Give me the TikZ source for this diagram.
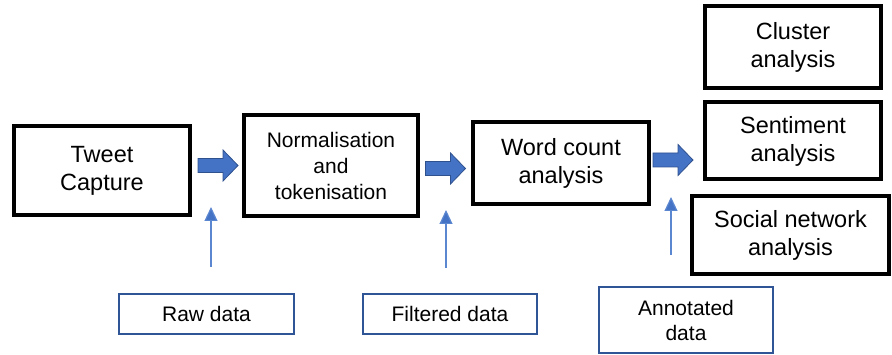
\documentclass[tikz,border=0pt]{standalone}
\usepackage{fontspec}
\setmainfont{Liberation Sans}
\usepackage{xcolor}
\usepackage{tikz}
\usetikzlibrary{arrows.meta,positioning}
\definecolor{arrowblue}{HTML}{4472C4}
\definecolor{arrowedge}{HTML}{2F528F}
\definecolor{databorder}{HTML}{2F5597}
\definecolor{thinblue}{HTML}{5B86D0}

\begin{document}
\begin{tikzpicture}[x=1pt, y=-1pt,
  proc/.style={draw, line width=4pt, rectangle, inner sep=0pt, align=center,
    font=\fontsize{23.5}{28}\selectfont},
  data/.style={draw=databorder, line width=1.5pt, rectangle, inner sep=0pt, align=center,
    font=\fontsize{21}{25}\selectfont},
  blk/.pic={\filldraw[fill=arrowblue, draw=arrowedge, line width=0.8pt]
    (-20,-7) -- (5,-7) -- (5,-15.5) -- (20,0) -- (5,15.5) -- (5,7) -- (-20,7) -- cycle;},
  feed/.style={draw=thinblue, line width=1.2pt, -{Triangle[length=14pt, width=13pt, fill=arrowblue]}}]
  \useasboundingbox (0,0) rectangle (892,355);

  % Processing stages
  \node[proc, minimum width=176pt, minimum height=89pt] (tweet) at (102,170.5) {Tweet\\Capture};
  \node[proc, minimum width=174pt, minimum height=101pt, font=\fontsize{21}{26}\selectfont] (norm) at (331,165.5) {Normalisation\\and\\tokenisation};
  \node[proc, minimum width=176pt, minimum height=82pt] (count) at (561,163) {Word count\\analysis};

  % Analyses
  \node[proc, minimum width=176pt, minimum height=82pt] (cluster) at (793,47) {Cluster\\analysis};
  \node[proc, minimum width=176pt, minimum height=77pt] (senti) at (793,141) {Sentiment\\analysis};
  \node[proc, minimum width=197pt, minimum height=78pt] (social) at (790.5,235) {Social network\\analysis};

  % Block arrows
  \pic (b1) at (218,165.5) {blk};
  \pic (b2) at (445.5,168.5) {blk};
  \pic (b3) at (673,160) {blk};

  % Data inputs
  \node[data, minimum width=175pt, minimum height=40pt] (raw) at (206.5,314) {Raw data};
  \node[data, minimum width=174pt, minimum height=40pt] (filt) at (450,314) {Filtered data};
  \node[data, minimum width=174pt, minimum height=66pt] (annot) at (686,320) {Annotated\\data};

  % Feed arrows
  \coordinate (r0) at (211,267);  \coordinate (r1) at (211,207);
  \coordinate (f0) at (446,268);  \coordinate (f1) at (446,210);
  \coordinate (a0) at (671,255);  \coordinate (a1) at (671,197);
  \draw[feed] (r0) -- (r1);
  \draw[feed] (f0) -- (f1);
  \draw[feed] (a0) -- (a1);
\end{tikzpicture}
\end{document}
